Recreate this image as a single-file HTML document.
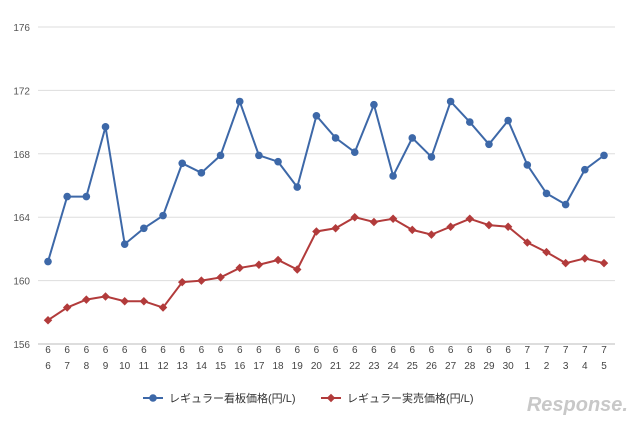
<!DOCTYPE html>
<html><head><meta charset="utf-8"><style>
body{margin:0;background:#fff;font-family:"Liberation Sans","Noto Sans CJK JP",sans-serif}
svg text{font-family:"Liberation Sans","Noto Sans CJK JP",sans-serif}
</style></head><body>
<svg id="c" width="640" height="421"></svg>
<script>
const months=[6,6,6,6,6,6,6,6,6,6,6,6,6,6,6,6,6,6,6,6,6,6,6,6,6,7,7,7,7,7];
const days=[6,7,8,9,10,11,12,13,14,15,16,17,18,19,20,21,22,23,24,25,26,27,28,29,30,1,2,3,4,5];
const boardPrice=[161.2,165.3,165.3,169.7,162.3,163.3,164.1,167.4,166.8,167.9,171.3,167.9,167.5,165.9,170.4,169.0,168.1,171.1,166.6,169.0,167.8,171.3,170.0,168.6,170.1,167.3,165.5,164.8,167.0,167.9];
const actualPrice=[157.5,158.3,158.8,159.0,158.7,158.7,158.3,159.9,160.0,160.2,160.8,161.0,161.3,160.7,163.1,163.3,164.0,163.7,163.9,163.2,162.9,163.4,163.9,163.5,163.4,162.4,161.8,161.1,161.4,161.1];
const yTicks=[156,160,164,168,172,176];
const NS="http://www.w3.org/2000/svg";
const svg=document.getElementById('c');
function el(t,a,p){const e=document.createElementNS(NS,t);for(const k in a)e.setAttribute(k,a[k]);(p||svg).appendChild(e);return e;}
const X0=38,X1=615,Y0=344,Y1=27;
const y=v=>Y0-(v-156)/(176-156)*(Y0-Y1);
const x=i=>48+i*(604-48)/(days.length-1);
yTicks.forEach(t=>{
  const l=el('line',{x1:X0,x2:X1,y1:y(t),y2:y(t),stroke:t===156?'#bbb':'#ddd','stroke-width':1});
  
  
  const tx=el('text',{x:30,y:y(t)+4,'text-anchor':'end','font-size':10,fill:'#555'});
  tx.textContent=t;
  
  
});
days.forEach((d,i)=>{
  const a=el('text',{x:x(i),y:353,'text-anchor':'middle','font-size':10,fill:'#444'});a.textContent=months[i];
  
  
  const b=el('text',{x:x(i),y:369,'text-anchor':'middle','font-size':10,fill:'#444'});b.textContent=d;
  
  
});
function series(vals,color,name,diamond){
  const g=el('g',{});
  
  
  el('polyline',{points:vals.map((v,i)=>x(i)+','+y(v)).join(' '),fill:'none',stroke:color,'stroke-width':2},g);
  vals.forEach((v,i)=>{
    let m;
    if(diamond)m=el('rect',{x:x(i)-3,y:y(v)-3,width:6,height:6,fill:color,transform:`rotate(45 ${x(i)} ${y(v)})`},g);
    else m=el('circle',{cx:x(i),cy:y(v),r:3.8,fill:color},g);
    
    
  });
}
series(boardPrice,'#3d68a8','board-price-series',false);
series(actualPrice,'#b23b3b','actual-price-series',true);
// legend
const lg=el('g',{});


el('line',{x1:143,x2:163,y1:398,y2:398,stroke:'#3d68a8','stroke-width':2},lg);
el('circle',{cx:153,cy:398,r:3.8,fill:'#3d68a8'},lg);
const t1=el('text',{x:169,y:402,'font-size':11,fill:'#333'},lg);t1.textContent='レギュラー看板価格(円/L)';
el('line',{x1:321,x2:341,y1:398,y2:398,stroke:'#b23b3b','stroke-width':2},lg);
el('rect',{x:328,y:395,width:6,height:6,fill:'#b23b3b',transform:'rotate(45 331 398)'},lg);
const t2=el('text',{x:347,y:402,'font-size':11,fill:'#333'},lg);t2.textContent='レギュラー実売価格(円/L)';
const wm=el('text',{x:628,y:411,'text-anchor':'end','font-size':20,'font-style':'italic','font-weight':'bold',fill:'#c8c8c8'});
wm.textContent='Response.';


</script>
</body></html>
